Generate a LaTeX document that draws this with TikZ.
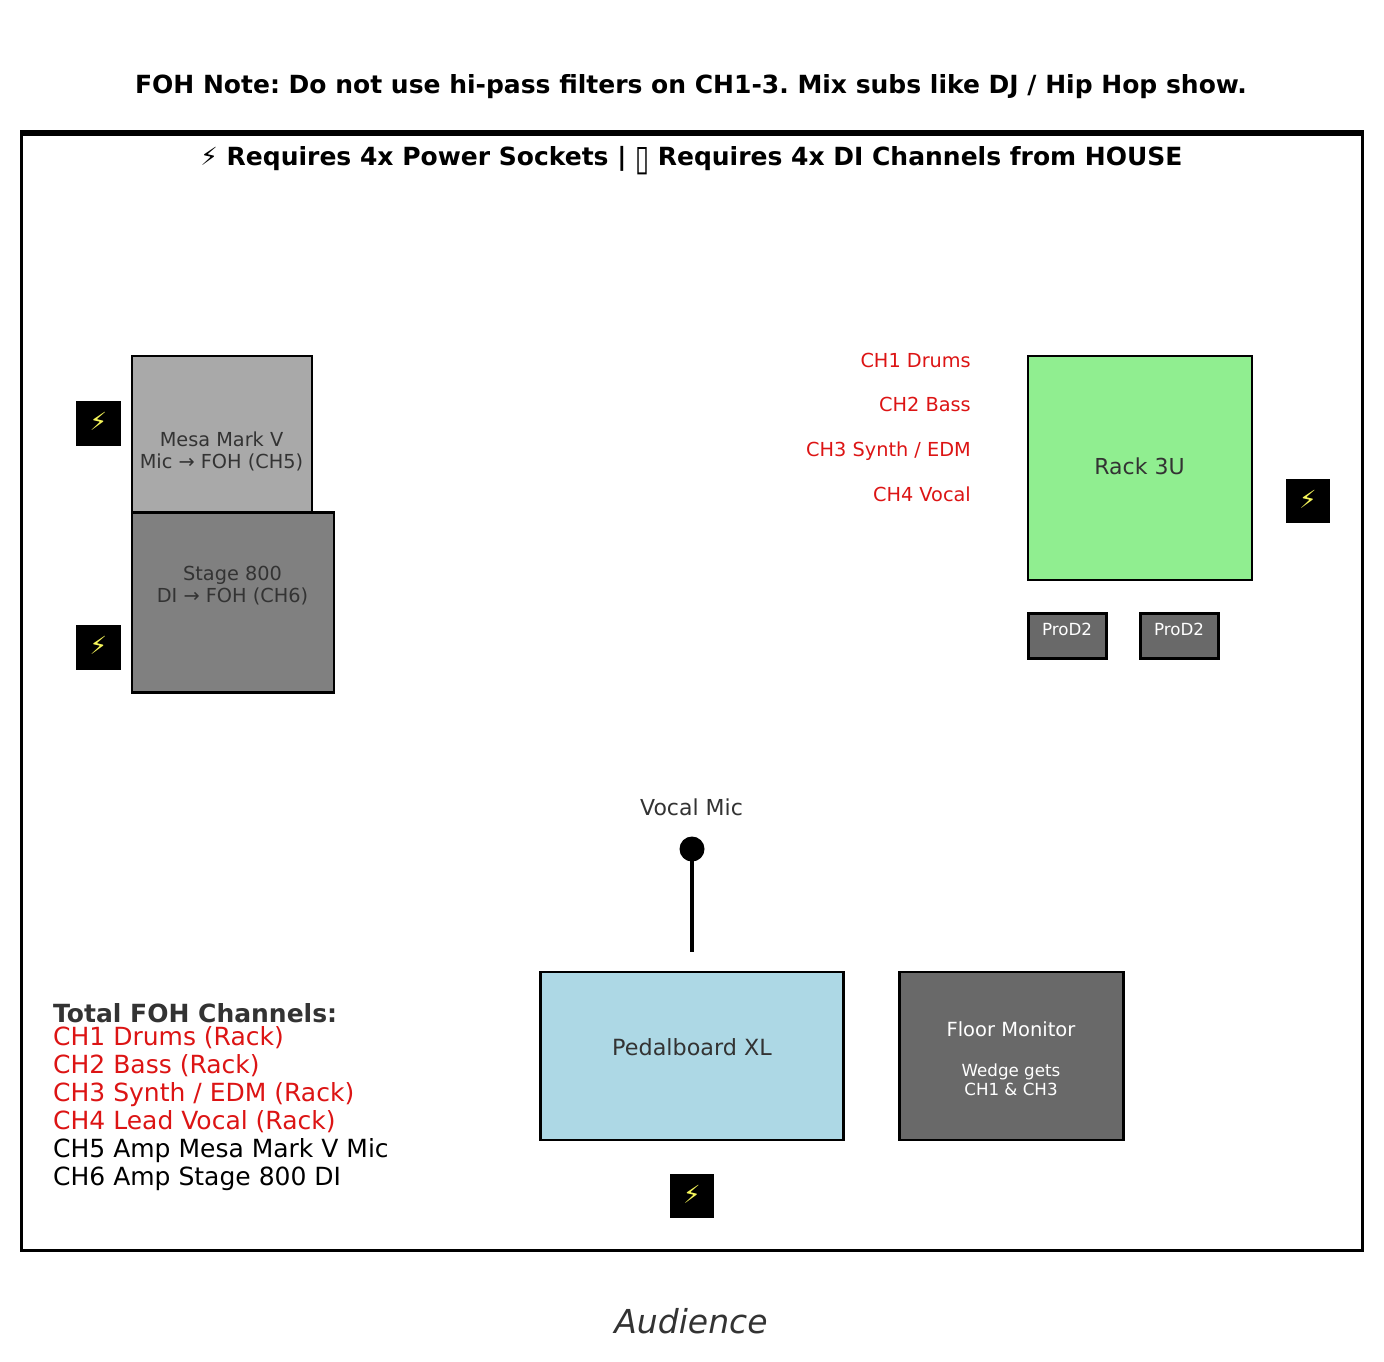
\documentclass[tikz,border=0pt]{standalone}
\usepackage[table,svgnames]{xcolor}
\usepackage{graphicx}
\usepackage{fontspec}
\setmainfont{DejaVu Sans}
\definecolor{inkgrey}{HTML}{333333}
\definecolor{chred}{HTML}{DC1414}
\definecolor{boltyellow}{HTML}{F5F55A}
\newcommand{\fsize}[1]{\fontsize{#1}{#1}\selectfont\frenchspacing}

\begin{document}
\begin{tikzpicture}[x=1pt,y=-1pt,line join=miter,
  gear/.style={draw=black,line width=2.5pt,outer sep=0pt,minimum width=#1,inner sep=0pt,anchor=north west,text=inkgrey},
  caption/.style={inner sep=0pt,text=inkgrey,align=center},
  bolt/.style={fill=black,minimum size=44.5pt,inner sep=0pt,text=boltyellow,font=\fsize{25}},
  sendlabel/.style={inner sep=0pt,text=chred,anchor=base east,font=\fsize{19.3}},
  prod/.style={gear,draw=black,line width=3pt,fill=DimGray,minimum width=78pt,minimum height=45pt}]
  \useasboundingbox (0,0) rectangle (1384,1361);

  \node[inner sep=0pt,font=\fsize{25}\bfseries] (note) at (691,86.5) {FOH Note: Do not use hi-pass filters on CH1-3. Mix subs like DJ / Hip Hop show.};

  % stage outline
  \node[draw=black,line width=3pt,outer sep=0pt,minimum width=1341pt,minimum height=1118pt,inner sep=0pt,anchor=north west] (stage) at (21.5,132.5) {};
  \draw[line width=6pt] ([xshift=-1.5pt]stage.north west) -- ([xshift=1.5pt]stage.north east);
  \node[inner sep=0pt,anchor=base,font=\fsize{25}\bfseries] (req) at (691.5,165.5) {{\mdseries ⚡} Requires 4x Power Sockets | \raisebox{-4.5pt}{\resizebox{14pt}{23pt}{\mdseries ▯}} Requires 4x DI Channels from HOUSE};

  % amps
  \node[gear=180pt,fill=DarkGray,minimum height=158pt] (mesa) at (132,356) {};
  \node[gear=202pt,fill=Gray,minimum height=180pt] (stage800) at (132,512.5) {};
  \node[caption,font=\fsize{19.3}] (mesatext) at (221.5,451.5) {Mesa Mark V\\[2.5pt]Mic → FOH (CH5)};
  \node[caption,font=\fsize{19.3}] (stagetext) at (232.5,585.5) {Stage 800\\[2.5pt]DI → FOH (CH6)};
  \node[bolt] (boltmesa) at (98.5,423.5) {\raisebox{4pt}{⚡}};
  \node[bolt] (boltstage) at (98.5,647.5) {\raisebox{4pt}{⚡}};

  % rack
  \node[gear=224pt,fill=LightGreen,minimum height=224pt] (rack) at (1028,356) {};
  \node[caption,font=\fsize{22},text=black!80] (racktext) at (1139.5,466) {Rack 3U};
  \node[bolt] (boltrack) at (1308,501) {\raisebox{4pt}{⚡}};
  \node[prod] (prodleft) at (1028,613.5) {};
  \node[prod] (prodright) at (1140,613.5) {};
  \node[inner sep=0pt,text=white,font=\fsize{16.7}] (prodlefttext) at (1067,629) {ProD2};
  \node[inner sep=0pt,text=white,font=\fsize{16.7}] (prodrighttext) at (1179,629) {ProD2};
  \node[sendlabel] (send1) at (971,367) {CH1 Drums};
  \node[sendlabel] (send2) at (971,411) {CH2 Bass};
  \node[sendlabel] (send3) at (971,456) {CH3 Synth / EDM};
  \node[sendlabel] (send4) at (971,501) {CH4 Vocal};

  % front of stage
  \node[caption,font=\fsize{22}] (mictext) at (691.5,807) {Vocal Mic};
  \node[circle,fill=black,minimum size=25pt,inner sep=0pt] (micball) at (692,849) {};
  \coordinate (micfoot) at (692,952);
  \draw[line width=4pt] (micball.center) -- (micfoot);
  \node[gear=303pt,fill=LightBlue,minimum height=168pt] (pedal) at (540.5,972) {};
  \node[caption,font=\fsize{22.3}] (pedaltext) at (692,1047) {Pedalboard XL};
  \node[gear=224pt,fill=DimGray,minimum height=168pt] (wedge) at (899.5,972) {};
  \node[caption,text=white,font=\fsize{19.5}] (wedgetext) at (1011,1029) {Floor Monitor};
  \node[caption,text=white,font=\fsize{16.7},align=center] (wedgenote) at (1011,1080) {Wedge gets\\[2pt]CH1 \& CH3};
  \node[bolt] (boltpedal) at (692,1196) {\raisebox{4pt}{⚡}};

  % channel list
  \node[inner sep=0pt,anchor=base west,text=inkgrey,font=\fsize{25}\bfseries] (listhead) at (53,1022) {Total FOH Channels:};
  \node[inner sep=0pt,anchor=base west,text=chred,font=\fsize{25}] (list1) at (53,1045) {CH1 Drums (Rack)};
  \node[inner sep=0pt,anchor=base west,text=chred,font=\fsize{25}] (list2) at (53,1073) {CH2 Bass (Rack)};
  \node[inner sep=0pt,anchor=base west,text=chred,font=\fsize{25}] (list3) at (53,1101) {CH3 Synth / EDM (Rack)};
  \node[inner sep=0pt,anchor=base west,text=chred,font=\fsize{25}] (list4) at (53,1129) {CH4 Lead Vocal (Rack)};
  \node[inner sep=0pt,anchor=base west,text=black,font=\fsize{25}] (list5) at (53,1157) {CH5 Amp Mesa Mark V Mic};
  \node[inner sep=0pt,anchor=base west,text=black,font=\fsize{25}] (list6) at (53,1185) {CH6 Amp Stage 800 DI};

  \node[caption,font=\fsize{33}\itshape] (audience) at (691,1321) {Audience};
\end{tikzpicture}
\end{document}
